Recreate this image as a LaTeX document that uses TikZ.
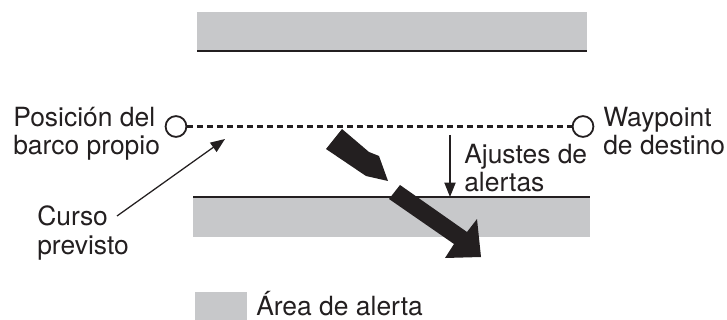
\documentclass[tikz,border=0pt]{standalone}
\usepackage{fontspec}
\setmainfont{TeX Gyre Heros}
\usepackage{xcolor}
\definecolor{alertGray}{HTML}{C7C8CA}
\definecolor{inkBlack}{HTML}{231F20}
\usetikzlibrary{arrows.meta}

\begin{document}
\begin{tikzpicture}[x=0.025cm, y=-0.025cm, >={Triangle[length=3.6mm,width=2.8mm]},
  lbl/.style={anchor=base west, inner sep=0pt, align=left, text=inkBlack,
    font=\fontsize{18.8}{20.3}\selectfont},
  wpt/.style={circle, draw=inkBlack, line width=1.3pt, fill=white,
    minimum size=0.52cm, inner sep=0pt}]
  \useasboundingbox (0,0) rectangle (727,320);
  % alert bands
  \fill[alertGray] (197,12) rectangle (587,51);
  \draw[inkBlack, line width=1.8pt] (197,51) -- (587,51);
  \fill[alertGray] (193,197) rectangle (590,237);
  \draw[inkBlack, line width=1.6pt] (193,197) -- (590,197);
  % planned route between the two points
  \node[wpt] (own) at (176,126.5) {};
  \node[wpt] (dest) at (583,126.5) {};
  \draw[inkBlack, line width=1.6pt, dash pattern=on 0.15cm off 0.1cm] (own) -- (dest);
  % labels (base = last line)
  \node[lbl] (posicion) at (13,155) {Posición del\\barco propio};
  \node[lbl] (waypoint) at (603,155) {Waypoint\\de destino};
  % intended course label
  \node[lbl] (curso) at (37,254) {Curso\\previsto};
  \coordinate (cursoTail) at (117,216);
  \coordinate (cursoTip) at (225,139);
  \draw[->, inkBlack, line width=0.9pt] (cursoTail) -- (cursoTip);
  % alert settings
  \node[lbl] (ajustes) at (464,191.7) {Ajustes de\\alertas};
  \coordinate (ajusteTop) at (450,135);
  \coordinate (ajusteTip) at (450,197);
  \draw[->, inkBlack, line width=0.9pt] (ajusteTop) -- (ajusteTip);
  % the broken course arrow crossing the band
  \fill[inkBlack] (342,129) -- (369,152) -- (379,156) -- (388,181)
    -- (366,176) -- (326,149) -- cycle;
  \fill[inkBlack] (400,185) -- (467,232) -- (477,219) -- (481,257)
    -- (445,258) -- (454,244) -- (389,199) -- cycle;
  % legend
  \fill[alertGray] (195,292) rectangle (247,320);
  \node[lbl] (legend) at (256,315) {Área de alerta};
\end{tikzpicture}
\end{document}
